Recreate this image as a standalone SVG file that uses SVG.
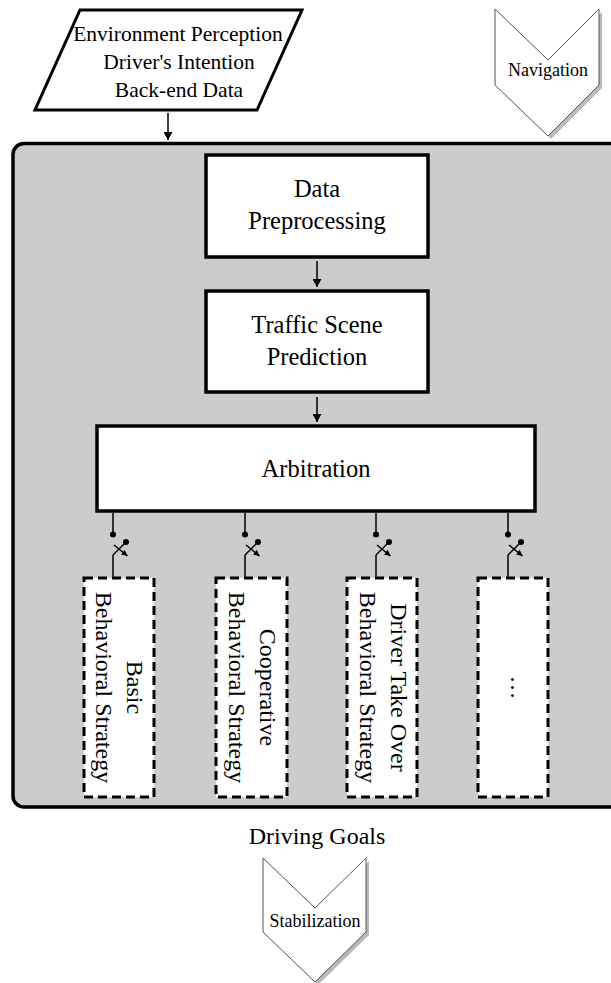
<svg xmlns="http://www.w3.org/2000/svg" width="611" height="983" viewBox="0 0 611 983">
<defs>
<style>
text { font-family: "Liberation Serif", "Times New Roman", serif; fill: #000; }
.box { fill: #fff; stroke: #000; stroke-width: 3.5; }
.dash { fill: #fff; stroke: #000; stroke-width: 3; stroke-dasharray: 9 5; }
.tb { font-size: 24.5px; text-anchor: middle; }
.tr { font-size: 24px; text-anchor: middle; }
.tc { font-size: 18px; text-anchor: middle; }
.chev { fill: #fff; stroke: #555; stroke-width: 1; }
.shadow { fill: #b8b8b8; }
.conn { stroke: #000; stroke-width: 1.5; fill: none; }
.dot { fill: #000; }
</style>
<marker id="ah" markerUnits="userSpaceOnUse" markerWidth="8" markerHeight="9" viewBox="0 0 8 9" refX="8" refY="4.5" orient="auto">
<path d="M0,0 L8,4.5 L0,9 Z" fill="#000"/>
</marker>
<marker id="ahs" markerUnits="userSpaceOnUse" markerWidth="6" markerHeight="6" viewBox="0 0 6 6" refX="6" refY="3" orient="auto">
<path d="M0,0 L6,3 L0,6 Z" fill="#000"/>
</marker>
</defs>

<g id="container">
<rect x="13" y="143.5" width="640" height="663.5" rx="11" fill="#cccccc" stroke="#000" stroke-width="3.5"/>
</g>

<g id="inputs">
<polygon points="80,10 302,10 257,110 35,110" fill="#fff" stroke="#000" stroke-width="3"/>
<text style="font-size:21.5px;text-anchor:middle"><tspan x="178" y="41">Environment Perception</tspan><tspan x="179" y="69">Driver's Intention</tspan><tspan x="179" y="97">Back-end Data</tspan></text>
</g>

<g id="navigation">
<polygon class="shadow" points="498,12 551,63 602,12 602,88 551,139 498,88"/>
<polygon class="chev" points="495,9 548,60 599,9 599,85 548,136 495,85"/>
<text class="tc" x="548" y="76">Navigation</text>
</g>

<g id="data-preprocessing">
<rect class="box" x="206" y="155" width="222" height="102"/>
<text class="tb"><tspan x="317" y="197">Data</tspan><tspan x="317" y="229">Preprocessing</tspan></text>
</g>

<g id="traffic-scene-prediction">
<rect class="box" x="206" y="291" width="222" height="101"/>
<text class="tb"><tspan x="317" y="333">Traffic Scene</tspan><tspan x="317" y="365">Prediction</tspan></text>
</g>

<g id="arbitration">
<rect class="box" x="97" y="426" width="438" height="85"/>
<text class="tb" x="316" y="477">Arbitration</text>
</g>

<g id="basic-strategy">
<rect class="dash" x="84" y="578" width="70" height="219"/>
<text class="tr" transform="translate(119,687.5) rotate(90)"><tspan x="0" y="-8">Basic</tspan><tspan x="0" y="23">Behavioral Strategy</tspan></text>
</g>

<g id="cooperative-strategy">
<rect class="dash" x="216" y="578" width="71" height="219"/>
<text class="tr" transform="translate(251.5,687.5) rotate(90)"><tspan x="0" y="-8">Cooperative</tspan><tspan x="0" y="23">Behavioral Strategy</tspan></text>
</g>

<g id="takeover-strategy">
<rect class="dash" x="347" y="578" width="70" height="219"/>
<text class="tr" transform="translate(382,687.5) rotate(90)"><tspan x="0" y="-9">Driver Take Over</tspan><tspan x="0" y="22">Behavioral Strategy</tspan></text>
</g>

<g id="other-strategy">
<rect class="dash" x="478" y="578" width="70" height="219"/>
<text class="tr" transform="translate(513,687.5) rotate(90)" x="0" y="2">…</text>
</g>

<g id="driving-goals">
<text x="317" y="844" style="font-size:24px;text-anchor:middle">Driving Goals</text>
</g>

<g id="stabilization">
<polygon class="shadow" points="266,861 318,911 369,861 369,935 318,985 266,935"/>
<polygon class="chev" points="263,858 315,908 366,858 366,932 315,982 263,932"/>
<text class="tc" x="315" y="927">Stabilization</text>
</g>

<g id="connectors">
<line class="conn" x1="168" y1="113" x2="168" y2="140" marker-end="url(#ah)"/>
<line class="conn" x1="317" y1="261" x2="317" y2="287" marker-end="url(#ah)"/>
<line class="conn" x1="317" y1="397" x2="317" y2="422" marker-end="url(#ah)"/>

<g id="switch1">
<line class="conn" x1="113" y1="513" x2="113" y2="534"/>
<circle class="dot" cx="113" cy="534.5" r="3"/>
<circle class="dot" cx="126" cy="542" r="3"/>
<line class="conn" x1="113" y1="555" x2="126" y2="542"/>
<line class="conn" x1="114" y1="545" x2="127.5" y2="556" marker-end="url(#ahs)"/>
<line class="conn" x1="113" y1="555" x2="113" y2="578"/>
</g>
<g id="switch2">
<line class="conn" x1="245" y1="513" x2="245" y2="534"/>
<circle class="dot" cx="245" cy="534.5" r="3"/>
<circle class="dot" cx="258" cy="542" r="3"/>
<line class="conn" x1="245" y1="555" x2="258" y2="542"/>
<line class="conn" x1="246" y1="545" x2="259.5" y2="556" marker-end="url(#ahs)"/>
<line class="conn" x1="245" y1="555" x2="245" y2="578"/>
</g>
<g id="switch3">
<line class="conn" x1="376" y1="513" x2="376" y2="534"/>
<circle class="dot" cx="376" cy="534.5" r="3"/>
<circle class="dot" cx="389" cy="542" r="3"/>
<line class="conn" x1="376" y1="555" x2="389" y2="542"/>
<line class="conn" x1="377" y1="545" x2="390.5" y2="556" marker-end="url(#ahs)"/>
<line class="conn" x1="376" y1="555" x2="376" y2="578"/>
</g>
<g id="switch4">
<line class="conn" x1="508" y1="513" x2="508" y2="534"/>
<circle class="dot" cx="508" cy="534.5" r="3"/>
<circle class="dot" cx="521" cy="542" r="3"/>
<line class="conn" x1="508" y1="555" x2="521" y2="542"/>
<line class="conn" x1="509" y1="545" x2="522.5" y2="556" marker-end="url(#ahs)"/>
<line class="conn" x1="508" y1="555" x2="508" y2="578"/>
</g>
</g>
</svg>
